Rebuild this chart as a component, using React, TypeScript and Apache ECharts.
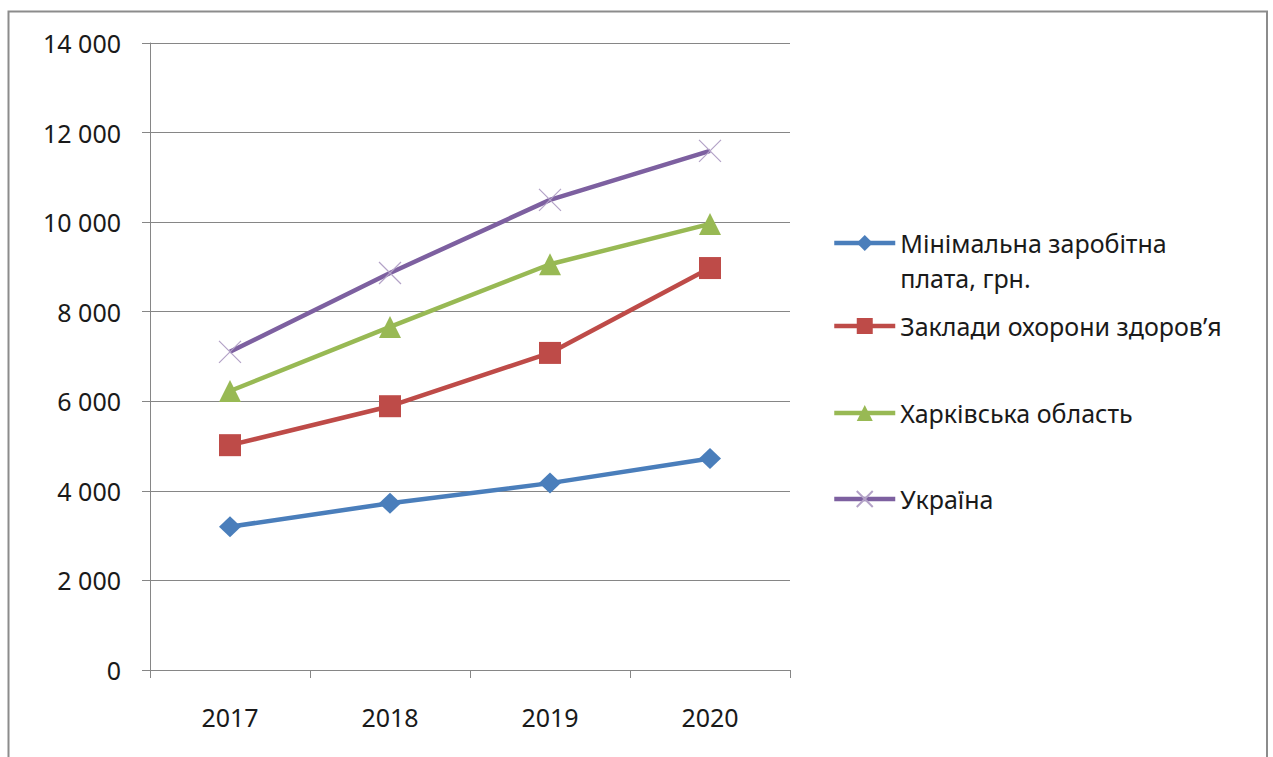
import { useEffect, useRef } from "react";
import * as echarts from "echarts";

// Average monthly wages vs. minimum wage, UAH
const years = ["2017", "2018", "2019", "2020"];
const minWage = [3200, 3723, 4173, 4723];
const healthcare = [5020, 5890, 7080, 8975];
const kharkiv = [6230, 7660, 9060, 9960];
const ukraine = [7104, 8865, 10497, 11591];

const seriesNames = [
  "Мінімальна заробітна плата, грн.",
  "Заклади охорони здоров’я",
  "Харківська область",
  "Україна",
];

const yMin = 0;
const yMax = 14000;
const yStep = 2000;

const FONT = "Noto Sans";
const FONT_SIZE = 25;
const AXIS_GREY = "#868686";
const TEXT_COLOR = "#1a1a1a";

const colors = ["#4a7ebb", "#be4b48", "#98b954", "#7d60a0"];
const crossColor = "#b3a2c7";
const LINE_WIDTH = 4.5;

const formatThousands = (v: number) =>
  String(v).replace(/\B(?=(\d{3})+(?!\d))/g, " ");

export default function App() {
  const ref = useRef<HTMLDivElement | null>(null);

  useEffect(() => {
    if (!ref.current) return;
    const chart = echarts.init(ref.current, null, { renderer: "svg" });

    const legendBase = {
      orient: "vertical" as const,
      left: 832,
      padding: 0,
      itemWidth: 61,
      itemHeight: 20,
      itemGap: 0,
      selectedMode: false,
      lineStyle: { width: LINE_WIDTH },
      textStyle: {
        fontFamily: FONT,
        fontSize: FONT_SIZE,
        color: TEXT_COLOR,
        lineHeight: 35,
      },
    };

    chart.setOption({
      animation: false,
      backgroundColor: "#ffffff",
      textStyle: { fontFamily: FONT },
      grid: { left: 150, top: 43, right: 483, bottom: 87, containLabel: false },
      graphic: [
        {
          type: "rect",
          shape: { x: 8.5, y: 11.5, width: 1258.5, height: 800 },
          style: { fill: "none", stroke: "#8c8c8c", lineWidth: 2 },
          silent: true,
        },
      ],
      legend: [
        {
          // blank first line keeps the icon level with the first line of the wrapped name
          ...legendBase,
          top: 190.5,
          data: [seriesNames[0]],
          formatter: () => " \nМінімальна заробітна\nплата, грн.",
        },
        { ...legendBase, top: 308.5, data: [seriesNames[1]] },
        { ...legendBase, top: 395.5, data: [seriesNames[2]] },
        { ...legendBase, top: 481.5, data: [seriesNames[3]] },
      ],
      xAxis: {
        type: "category",
        data: years,
        boundaryGap: true,
        axisLine: { show: true, lineStyle: { color: AXIS_GREY, width: 1 } },
        axisTick: {
          show: true,
          inside: false,
          length: 8,
          alignWithLabel: false,
          lineStyle: { color: AXIS_GREY },
        },
        axisLabel: {
          margin: 34,
          fontFamily: FONT,
          fontSize: FONT_SIZE,
          color: TEXT_COLOR,
        },
        splitLine: { show: false },
      },
      yAxis: {
        type: "value",
        min: yMin,
        max: yMax,
        interval: yStep,
        axisLine: { show: true, lineStyle: { color: AXIS_GREY, width: 1 } },
        axisTick: { show: true, inside: false, length: 8, lineStyle: { color: AXIS_GREY } },
        axisLabel: {
          margin: 29,
          fontFamily: FONT,
          fontSize: FONT_SIZE,
          color: TEXT_COLOR,
          formatter: (v: number) => formatThousands(v),
        },
        splitLine: { show: true, lineStyle: { color: AXIS_GREY, width: 1 } },
      },
      series: [
        {
          name: seriesNames[0],
          type: "line",
          data: minWage,
          symbol: "diamond",
          symbolSize: [22, 21],
          lineStyle: { color: colors[0], width: LINE_WIDTH },
          itemStyle: { color: colors[0] },
        },
        {
          name: seriesNames[1],
          type: "line",
          data: healthcare,
          symbol: "rect",
          symbolSize: 22,
          lineStyle: { color: colors[1], width: LINE_WIDTH },
          itemStyle: { color: colors[1] },
        },
        {
          name: seriesNames[2],
          type: "line",
          data: kharkiv,
          symbol: "triangle",
          symbolSize: 22,
          lineStyle: { color: colors[2], width: LINE_WIDTH },
          itemStyle: { color: colors[2] },
        },
        {
          name: seriesNames[3],
          type: "line",
          data: ukraine,
          symbol: "path://M0,0L20,20M20,0L0,20",
          symbolSize: 22,
          symbolKeepAspect: true,
          lineStyle: { color: colors[3], width: LINE_WIDTH },
          itemStyle: { color: "none", borderColor: crossColor, borderWidth: 1.2 },
        },
      ],
    });

    return () => chart.dispose();
  }, []);

  return (
    <div
      ref={ref}
      style={{ position: "absolute", left: 0, top: 0, width: 1273, height: 757, background: "#fff" }}
    />
  );
}
